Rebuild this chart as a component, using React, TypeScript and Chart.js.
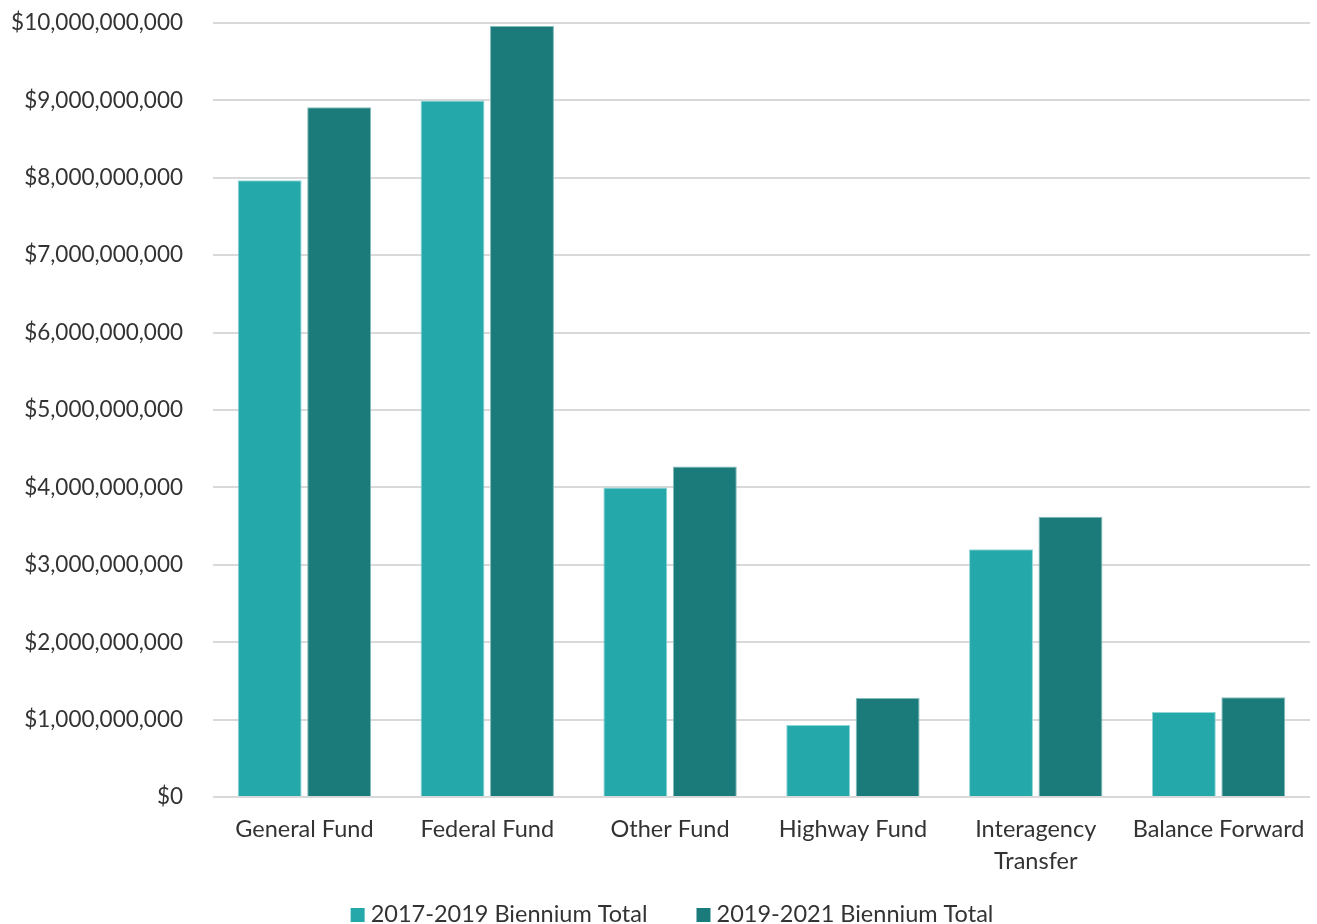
import React, { useEffect, useRef } from "react";
import { Chart, registerables } from "chart.js";

Chart.register(...registerables);

const categories: (string | string[])[] = [
  "General Fund",
  "Federal Fund",
  "Other Fund",
  "Highway Fund",
  ["Interagency", "Transfer"],
  "Balance Forward",
];
const series2017 = [7.97e9, 9.0e9, 4.0e9, 0.93e9, 3.2e9, 1.1e9];
const series2019 = [8.91e9, 9.96e9, 4.27e9, 1.28e9, 3.62e9, 1.29e9];
const seriesLabels = ["2017-2019 Biennium Total", "2019-2021 Biennium Total"];
const seriesColors = ["#25a8aa", "#1b7b7a"];
const yMax = 10e9;
const yStep = 1e9;

const FONT = "Lato, 'Open Sans', sans-serif";
const TEXT = "#333333";

const bottomLegend = {
  id: "bottomLegend",
  afterDraw(chart: any) {
    const ctx = chart.ctx as CanvasRenderingContext2D;
    ctx.save();
    ctx.font = `23.5px ${FONT}`;
    ctx.textBaseline = "middle";
    ctx.fillStyle = TEXT;
    const box = 14;
    const gap = 6;
    const spacing = 49;
    const items = chart.data.datasets.map((d: any) => ({
      label: d.label as string,
      color: d.backgroundColor as string,
      w: ctx.measureText(d.label).width,
    }));
    const total =
      items.reduce((s: number, it: any) => s + box + gap + it.w, 0) + spacing * (items.length - 1);
    let x = 672 - total / 2;
    const y = 914;
    for (const it of items) {
      ctx.fillStyle = it.color;
      ctx.fillRect(x, y - box / 2 + 1, box, box);
      x += box + gap;
      ctx.fillStyle = TEXT;
      ctx.textAlign = "left";
      ctx.fillText(it.label, x, y);
      x += it.w + spacing;
    }
    ctx.restore();
  },
};

export default function App() {
  const ref = useRef<HTMLCanvasElement | null>(null);
  useEffect(() => {
    if (!ref.current) return;
    const chart = new Chart(ref.current, {
      type: "bar",
      data: {
        labels: categories,
        datasets: [
          {
            label: seriesLabels[0],
            data: series2017,
            backgroundColor: seriesColors[0],
            borderColor: "#8fd6d7",
            borderWidth: 1,
            categoryPercentage: 0.76,
            barPercentage: 0.92,
          },
          {
            label: seriesLabels[1],
            data: series2019,
            backgroundColor: seriesColors[1],
            borderColor: "#86bcbc",
            borderWidth: 1,
            categoryPercentage: 0.76,
            barPercentage: 0.92,
          },
        ],
      },
      options: {
        animation: false,
        responsive: true,
        maintainAspectRatio: false,
        layout: { padding: { left: 0, right: 7, top: 0, bottom: 31 } },
        plugins: {
          tooltip: { enabled: false },
          legend: { display: false },
        },
        scales: {
          x: {
            grid: { display: false, drawTicks: false },
            border: { display: false },
            afterFit: (scale: any) => {
              scale.paddingLeft = 0;
              scale.paddingRight = 0;
            },
            ticks: {
              color: TEXT,
              font: { family: FONT, size: 23.5, lineHeight: 1.36 },
              padding: 16,
              maxRotation: 0,
              autoSkip: false,
            },
          },
          y: {
            min: 0,
            max: yMax,
            grid: { color: "#d9d9d9", lineWidth: 2, drawTicks: false },
            border: { display: false },
            afterFit: (scale: any) => {
              scale.width = 213;
              scale.paddingTop = 23;
              scale.paddingBottom = 14;
            },
            ticks: {
              stepSize: yStep,
              color: TEXT,
              font: { family: FONT, size: 22.5 },
              padding: 30,
              callback: (v: any) => "$" + Number(v).toLocaleString("en-US"),
            },
          },
        },
      },
      plugins: [bottomLegend],
    });
    return () => chart.destroy();
  }, []);
  return (
    <div style={{ position: "absolute", left: 0, top: 0, width: 1317, height: 924, background: "#fff" }}>
      <canvas ref={ref} />
    </div>
  );
}
